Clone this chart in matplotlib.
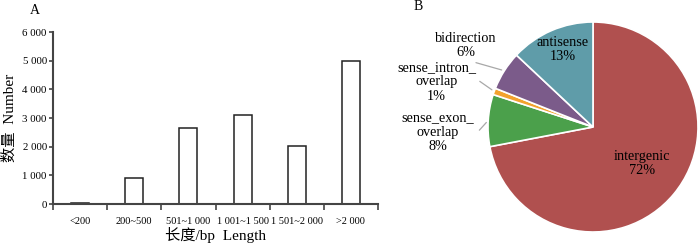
import matplotlib.pyplot as plt
import numpy as np

plt.rcParams['font.family'] = ['Liberation Serif', 'Noto Sans CJK SC']

# A: 长度分布
length_bins = ['<200', '200~500', '501~1 000', '1 001~1 500', '1 501~2 000', '>2 000']
counts = [20, 890, 2650, 3120, 2030, 4980]
yticks = [0, 1000, 2000, 3000, 4000, 5000, 6000]
ytick_labels = ['0', '1 000', '2 000', '3 000', '4 000', '5 000', '6 000']

# B: 类型比例
types = ['intergenic', 'sense_exon_\noverlap', 'sense_intron_\noverlap', 'bidirection', 'antisense']
shares = [72, 8, 1, 6, 13]
colors = ['#B0504F', '#4BA04B', '#F2A22E', '#7B5B8A', '#5F9CA9']

fig = plt.figure(figsize=(7, 2.43), dpi=100)
axc = '#444444'

# ---- 柱状图 ----
ax = fig.add_axes([53/700, 1-204/243, 325/700, 172/243])
x = np.arange(len(counts))
ax.bar(x, counts, width=0.33, color='white', edgecolor='#222222', linewidth=1.1)
ax.set_xlim(-0.5, len(counts)-0.5)
ax.set_ylim(0, 6000)
ax.set_yticks(yticks)
ax.set_yticklabels(ytick_labels, fontsize=7.8)
ax.set_xticks(x)
ax.set_xticklabels(length_bins, fontsize=7.5)
ax.set_xticks(np.arange(len(counts)+1)-0.5, minor=True)
ax.tick_params(axis='x', which='major', length=0, pad=9)
ax.tick_params(axis='x', which='minor', length=4, width=1.2, color=axc, direction='out')
ax.tick_params(axis='y', length=3, width=1.2, color=axc, pad=1.5)
for s in ['top', 'right']:
    ax.spines[s].set_visible(False)
for s in ['left', 'bottom']:
    ax.spines[s].set_color(axc)
    ax.spines[s].set_linewidth(1.5)
ax.set_ylabel('数量  Number', fontsize=11, labelpad=4)
ax.set_xlabel('长度/bp  Length', fontsize=11, labelpad=1)
fig.text(35/700, 1-10/243, 'A', fontsize=10, ha='center', va='center')

# ---- 饼图 ----
r = 105
ax2 = fig.add_axes([(593-r)/700, (243-127-r)/243, 2*r/700, 2*r/243])
wedges, _ = ax2.pie(shares, colors=colors, startangle=90, counterclock=False,
                    wedgeprops=dict(edgecolor='white', linewidth=1.2))
ax2.set_xlim(-1, 1)
ax2.set_ylim(-1, 1)
fig.text(418/700, 1-7/243, 'B', fontsize=10, ha='center', va='center')

lab = [f'{t}\n{p}%' for t, p in zip(types, shares)]
fs = 10.3
ls = 1.12
ax2.text(0.47, -0.35, lab[0], ha='center', va='center', fontsize=fs, linespacing=ls)
ax2.text(-0.29, 0.74, lab[4], ha='center', va='center', fontsize=fs, linespacing=ls)

outside = {1: (-1.48, -0.05), 2: (-1.49, 0.43), 3: (-1.21, 0.78)}
line_start = {1: (-1.1, -0.05), 2: (-1.1, 0.45), 3: (-1.14, 0.62)}
for i, pos in outside.items():
    w = wedges[i]
    ang = np.deg2rad((w.theta1 + w.theta2) / 2)
    ax2.annotate('', xy=(np.cos(ang), np.sin(ang)), xytext=line_start[i],
                 arrowprops=dict(arrowstyle='-', color='#A8A8A8', lw=0.9))
    ax2.text(pos[0], pos[1], lab[i], ha='center', va='center', fontsize=fs, linespacing=ls)

fig.savefig('out.png', dpi=100)
